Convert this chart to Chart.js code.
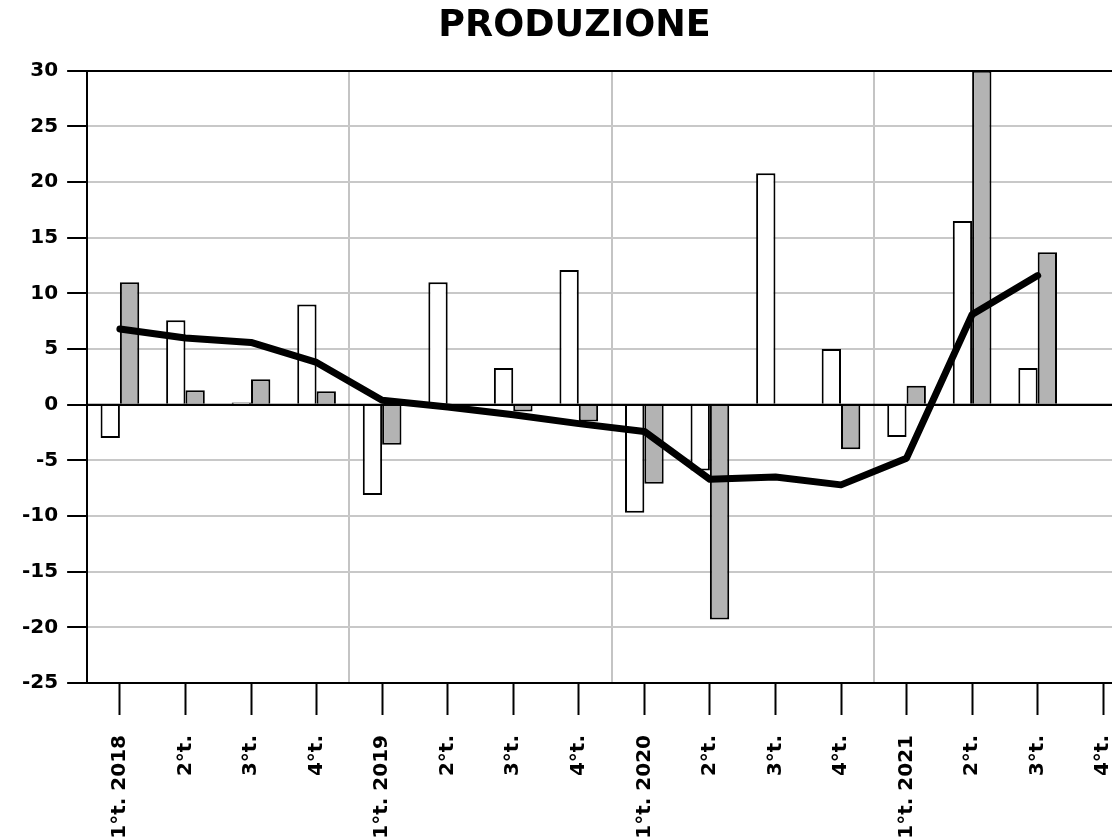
<!DOCTYPE html>
<html>
<head>
<meta charset="utf-8">
<script src="https://cdn.jsdelivr.net/npm/chart.js@4"></script>
<style>
  body { margin: 0; overflow: hidden; background: #fff; }
  #wrap { width: 1156px; height: 838px; }
</style>
</head>
<body>
<div id="wrap"><canvas id="prodChart"></canvas></div>
<script>
// quarters shown on the x axis
const quarters = ["1°t. 2018", "2°t.", "3°t.", "4°t.",
                  "1°t. 2019", "2°t.", "3°t.", "4°t.",
                  "1°t. 2020", "2°t.", "3°t.", "4°t.",
                  "1°t. 2021", "2°t.", "3°t.", "4°t."];

// white bars
const seriesWhite = [-3.0, 7.6, 0.2, 9.0, -8.1, 11.0, 3.3, 12.1,
                     -9.7, -5.9, 20.8, 5.0, -2.9, 16.5, 3.3, null];
// grey bars
const seriesGrey = [11.0, 1.3, 2.3, 1.2, -3.6, 0, -0.6, -1.5,
                    -7.1, -19.3, 0, -4.0, 1.7, 30.0, 13.7, null];
// black line
const seriesLine = [6.8, 6.0, 5.6, 3.8, 0.4, -0.2, -0.9, -1.7,
                    -2.4, -6.7, -6.5, -7.2, -4.8, 8.1, 11.6, null];

const yTicks = [-25, -20, -15, -10, -5, 0, 5, 10, 15, 20, 25, 30];

Chart.defaults.font.family = "'DejaVu Sans', sans-serif";
Chart.defaults.font.weight = "bold";
Chart.defaults.color = "#000";

// black zero line on top of the bars
const zeroLine = {
  id: "zeroLine",
  afterDatasetsDraw(chart) {
    const y = chart.scales.y.getPixelForValue(0);
    const area = chart.chartArea;
    const c = chart.ctx;
    c.save();
    c.strokeStyle = "#000";
    c.lineWidth = 2;
    c.beginPath();
    c.moveTo(area.left, y);
    c.lineTo(area.right, y);
    c.stroke();
    c.restore();
  }
};

const ctx = document.getElementById("prodChart");

new Chart(ctx, {
  data: {
    labels: quarters,
    datasets: [
      {
        type: "line",
        data: seriesLine,
        borderColor: "#000",
        borderWidth: 7,
        pointRadius: 0,
        tension: 0,
        borderCapStyle: "round",
        borderJoinStyle: "round",
        order: 0
      },
      {
        type: "bar",
        data: seriesWhite,
        backgroundColor: "#fff",
        borderColor: "#000",
        borderWidth: 2,
        borderSkipped: "start",
        categoryPercentage: 0.59,
        barPercentage: 1,
        order: 1
      },
      {
        type: "bar",
        data: seriesGrey,
        backgroundColor: "#b3b3b3",
        borderColor: "#000",
        borderWidth: 2,
        borderSkipped: "start",
        categoryPercentage: 0.59,
        barPercentage: 1,
        order: 1
      }
    ]
  },
  options: {
    responsive: true,
    maintainAspectRatio: false,
    animation: false,
    layout: { padding: { left: 13, right: 20, top: 0, bottom: 0 } },
    plugins: {
      legend: { display: false },
      tooltip: { enabled: false },
      title: {
        display: true,
        text: "PRODUZIONE",
        font: { size: 36.5, weight: "bold" },
        color: "#000",
        padding: { top: 5, bottom: 22 }
      }
    },
    scales: {
      x: {
        type: "category",
        position: "bottom",
        offset: true,
        afterFit: axis => { axis.height = 155; },
        border: { color: "#000", width: 2 },
        grid: {
          offset: false,
          drawOnChartArea: false,
          tickLength: 32,
          tickColor: "#000",
          tickWidth: 2
        },
        ticks: {
          minRotation: 90,
          maxRotation: 90,
          autoSkip: false,
          padding: 20,
          font: { size: 20, weight: "bold" }
        }
      },
      x2: {
        type: "category",
        position: "top",
        labels: quarters,
        offset: true,
        border: { color: "#000", width: 2 },
        grid: {
          offset: true,
          drawTicks: false,
          lineWidth: 2,
          // year separators only
          color: c => (c.index > 0 && c.index % 4 === 0) ? "#c4c4c4" : "rgba(0,0,0,0)"
        },
        ticks: { display: false }
      },
      y: {
        min: -25,
        max: 30,
        afterBuildTicks: axis => { axis.ticks = yTicks.map(v => ({ value: v })); },
        border: { color: "#000", width: 2 },
        grid: {
          lineWidth: 2,
          color: c => (c.tick && c.tick.value === 0) ? "#000" : "#c8c8c8",
          tickColor: "#000",
          tickLength: 20,
          tickWidth: 2
        },
        ticks: {
          padding: 9,
          font: { size: 20, weight: "bold" }
        }
      }
    }
  },
  plugins: [zeroLine]
});
</script>
</body>
</html>
